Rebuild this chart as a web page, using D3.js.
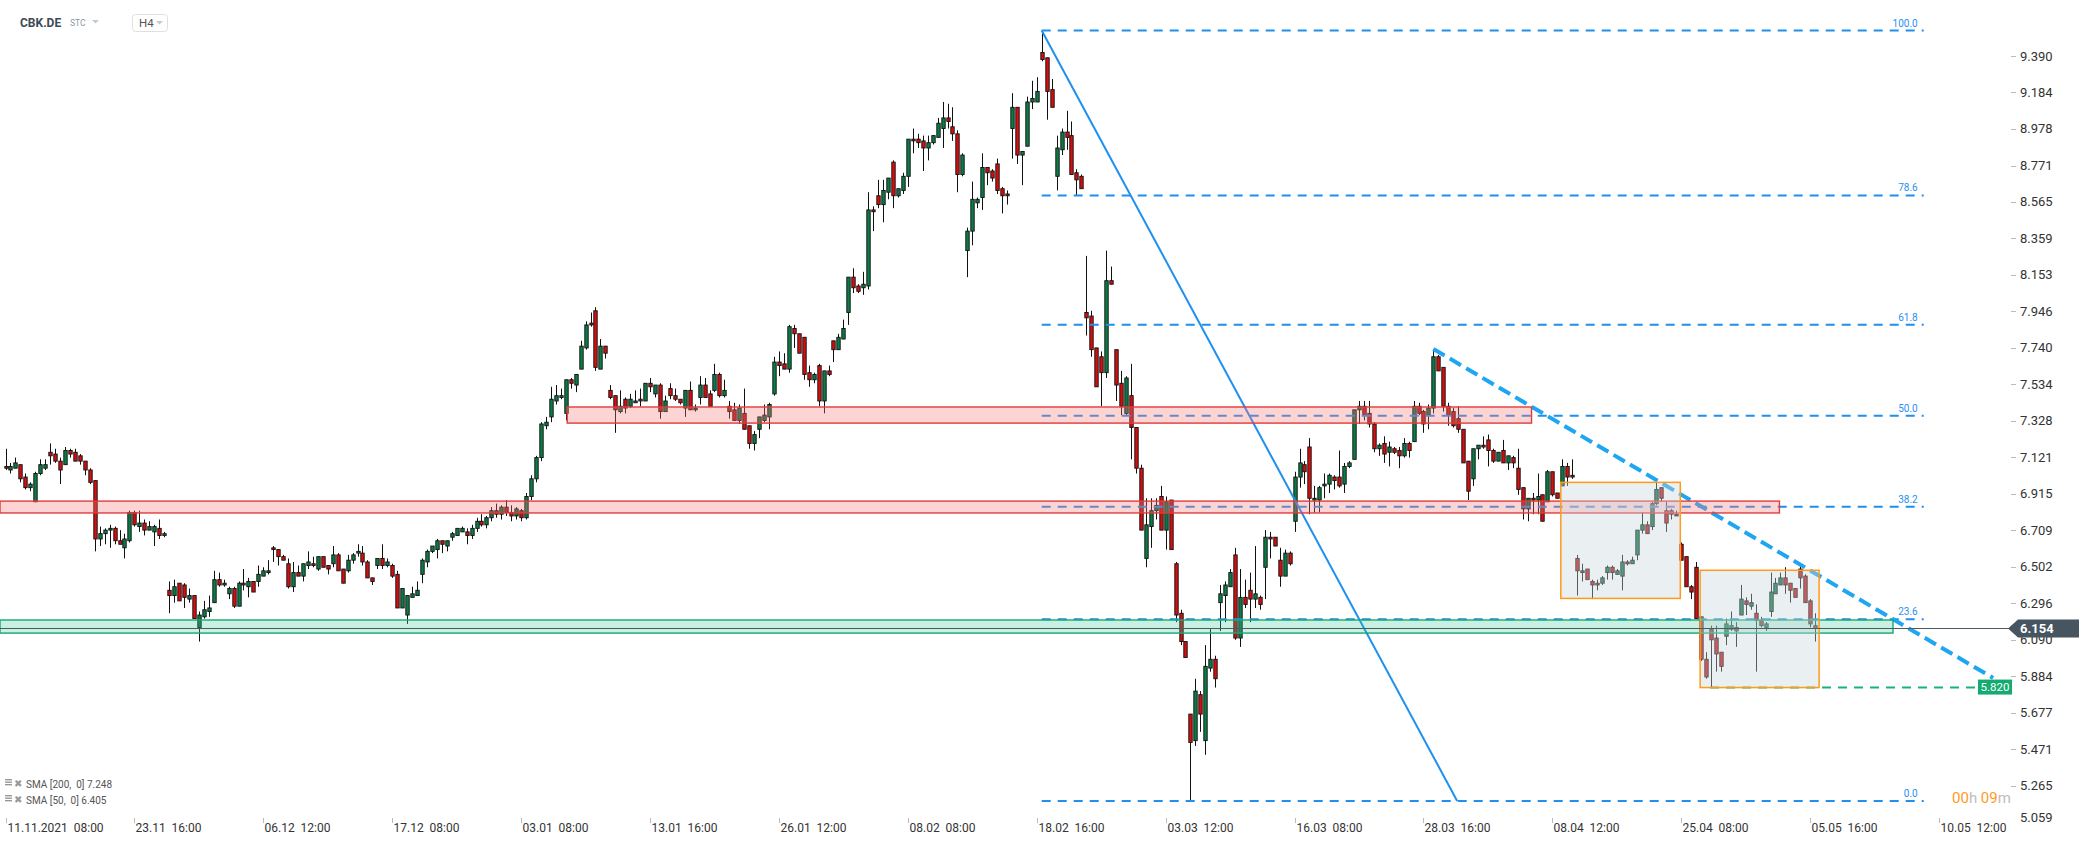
<!DOCTYPE html>
<html><head><meta charset="utf-8">
<script src="https://cdn.jsdelivr.net/npm/d3@7"></script>
<style>
html,body{margin:0;padding:0;background:#fff;}
svg{display:block;font-family:Roboto,"Noto Sans",sans-serif;}
</style></head>
<body>
<svg id="chart" width="2079" height="845"></svg>
<script>
// ---------- DATA ----------
const symbol = "CBK.DE";
const priceTicks = [9.390,9.184,8.978,8.771,8.565,8.359,8.153,7.946,7.740,7.534,7.328,7.121,6.915,6.709,6.502,6.296,6.090,5.884,5.677,5.471,5.265,5.059];
const dateLabels = ["11.11.2021  08:00","23.11  16:00","06.12  12:00","17.12  08:00","03.01  08:00","13.01  16:00","26.01  12:00","08.02  08:00","18.02  16:00","03.03  12:00","16.03  08:00","28.03  16:00","08.04  12:00","25.04  08:00","05.05  16:00","10.05  12:00"];
const dateLabelBars = [0,26,52,78,104,130,156,182,208,234,260,286,312,338,364,390];
// [open, high, low, close] per H4 bar
const ohlc = [
[7.07,7.17,7.05,7.06],[7.05,7.09,7.03,7.07],[7.06,7.12,7.06,7.09],[7.08,7.08,6.98,7.00],[7.01,7.03,6.94,6.95],
[6.95,6.98,6.93,6.97],[6.87,7.04,6.87,7.03],[7.03,7.11,7.02,7.08],[7.06,7.11,7.05,7.08],[7.15,7.20,7.08,7.13],
[7.14,7.17,7.09,7.10],[7.10,7.12,6.97,7.05],[7.08,7.18,7.08,7.16],[7.16,7.17,7.12,7.14],[7.15,7.17,7.10,7.10],
[7.13,7.14,7.08,7.10],[7.10,7.10,7.02,7.05],[7.05,7.06,6.97,6.98],[6.99,6.99,6.59,6.66],[6.66,6.73,6.62,6.69],
[6.69,6.72,6.63,6.71],[6.71,6.74,6.61,6.72],[6.72,6.73,6.63,6.65],[6.65,6.71,6.63,6.63],[6.61,6.69,6.55,6.66],
[6.65,6.82,6.64,6.81],[6.81,6.82,6.73,6.74],[6.73,6.82,6.70,6.75],[6.75,6.77,6.68,6.71],[6.71,6.76,6.71,6.73],
[6.70,6.74,6.62,6.73],[6.72,6.77,6.66,6.68],[6.68,6.70,6.67,6.69],[6.37,6.42,6.24,6.34],[6.34,6.43,6.30,6.39],
[6.41,6.41,6.31,6.31],[6.40,6.41,6.27,6.33],[6.32,6.38,6.30,6.34],[6.34,6.34,6.21,6.21],[6.16,6.25,6.08,6.23],
[6.22,6.31,6.21,6.26],[6.25,6.34,6.22,6.27],[6.30,6.48,6.30,6.43],[6.43,6.47,6.39,6.40],[6.40,6.43,6.39,6.41],
[6.35,6.39,6.32,6.38],[6.38,6.39,6.27,6.28],[6.28,6.42,6.28,6.41],[6.41,6.49,6.37,6.40],[6.39,6.44,6.33,6.42],
[6.42,6.42,6.36,6.36],[6.42,6.51,6.39,6.46],[6.45,6.50,6.45,6.48],[6.47,6.54,6.46,6.48],[6.61,6.62,6.53,6.60],
[6.60,6.60,6.51,6.56],[6.56,6.57,6.54,6.54],[6.52,6.55,6.38,6.39],[6.39,6.53,6.36,6.47],[6.47,6.51,6.45,6.45],
[6.45,6.52,6.42,6.52],[6.51,6.59,6.49,6.53],[6.52,6.56,6.50,6.51],[6.49,6.56,6.48,6.56],[6.56,6.56,6.50,6.50],
[6.51,6.51,6.46,6.49],[6.52,6.62,6.50,6.57],[6.57,6.58,6.48,6.48],[6.49,6.49,6.41,6.41],[6.48,6.57,6.47,6.54],
[6.54,6.58,6.52,6.57],[6.58,6.63,6.56,6.59],[6.58,6.62,6.51,6.53],[6.53,6.54,6.44,6.44],[6.44,6.44,6.40,6.42],
[6.51,6.55,6.49,6.55],[6.55,6.63,6.49,6.51],[6.51,6.55,6.50,6.53],[6.51,6.52,6.44,6.45],[6.46,6.48,6.27,6.27],
[6.27,6.38,6.27,6.38],[6.23,6.34,6.18,6.34],[6.33,6.39,6.33,6.35],[6.34,6.42,6.34,6.37],[6.46,6.55,6.41,6.54],
[6.53,6.60,6.50,6.59],[6.59,6.62,6.58,6.62],[6.60,6.66,6.55,6.65],[6.65,6.65,6.58,6.63],[6.62,6.65,6.59,6.65],
[6.67,6.70,6.65,6.69],[6.68,6.72,6.68,6.72],[6.70,6.73,6.70,6.72],[6.70,6.72,6.63,6.68],
[6.68,6.74,6.66,6.72],[6.72,6.78,6.70,6.76],[6.76,6.80,6.73,6.74],[6.74,6.79,6.72,6.78],[6.78,6.84,6.76,6.82],
[6.82,6.86,6.78,6.80],[6.80,6.85,6.77,6.84],[6.84,6.88,6.79,6.81],[6.81,6.85,6.76,6.79],[6.79,6.84,6.77,6.83],
[6.82,6.83,6.76,6.78],[6.78,6.92,6.77,6.90],[6.90,7.02,6.88,7.00],[7.00,7.13,6.98,7.12],[7.12,7.32,7.10,7.31],
[7.30,7.35,7.28,7.32],[7.35,7.52,7.32,7.45],[7.44,7.53,7.42,7.47],[7.46,7.51,7.45,7.47],[7.37,7.56,7.33,7.56],
[7.56,7.57,7.51,7.54],[7.53,7.59,7.49,7.59],[7.62,7.78,7.62,7.75],[7.74,7.89,7.73,7.87],[7.88,7.94,7.86,7.87],
[7.95,7.97,7.61,7.63],[7.62,7.79,7.62,7.75],[7.75,7.75,7.68,7.71],[7.50,7.53,7.45,7.46],[7.47,7.47,7.26,7.39],
[7.38,7.50,7.37,7.41],[7.45,7.46,7.37,7.40],[7.41,7.48,7.40,7.45],[7.43,7.50,7.43,7.44],[7.45,7.51,7.41,7.44],
[7.44,7.54,7.44,7.54],[7.54,7.57,7.49,7.52],[7.48,7.53,7.46,7.53],[7.53,7.54,7.34,7.38],[7.38,7.47,7.38,7.44],
[7.51,7.54,7.45,7.47],[7.47,7.51,7.44,7.45],[7.45,7.45,7.42,7.43],[7.40,7.50,7.35,7.50],[7.50,7.55,7.39,7.39],
[7.39,7.42,7.38,7.40],[7.46,7.58,7.42,7.53],[7.53,7.57,7.46,7.46],[7.48,7.50,7.41,7.41],[7.50,7.65,7.49,7.59],
[7.59,7.60,7.46,7.47],[7.47,7.56,7.46,7.50],[7.41,7.44,7.34,7.38],[7.39,7.43,7.33,7.33],[7.33,7.42,7.31,7.40],
[7.37,7.51,7.28,7.28],[7.30,7.30,7.17,7.20],[7.20,7.27,7.16,7.25],[7.28,7.35,7.23,7.35],[7.33,7.42,7.32,7.36],
[7.35,7.43,7.28,7.42],[7.48,7.69,7.47,7.66],[7.66,7.72,7.58,7.64],[7.65,7.71,7.62,7.62],[7.62,7.87,7.60,7.86],
[7.85,7.87,7.74,7.82],[7.82,7.82,7.71,7.71],[7.80,7.80,7.56,7.59],[7.60,7.64,7.52,7.56],[7.56,7.60,7.54,7.59],
[7.64,7.65,7.41,7.44],[7.44,7.61,7.37,7.61],[7.61,7.64,7.58,7.59],[7.78,7.78,7.66,7.73],[7.73,7.82,7.73,7.80],
[7.79,7.90,7.79,7.85],[7.94,8.14,7.87,8.14],[8.14,8.19,8.05,8.08],[8.09,8.10,8.05,8.06],[8.08,8.17,8.04,8.10],
[8.09,8.62,8.07,8.52],[8.52,8.54,8.40,8.51],[8.60,8.69,8.53,8.55],[8.55,8.69,8.45,8.63],[8.62,8.70,8.58,8.70],
[8.79,8.80,8.53,8.60],[8.60,8.64,8.59,8.64],[8.63,8.73,8.61,8.71],[8.71,8.92,8.65,8.92],[8.92,8.98,8.84,8.91],
[8.92,8.95,8.87,8.90],[8.91,8.94,8.74,8.87],[8.87,8.94,8.80,8.90],[8.90,8.94,8.89,8.94],[8.93,9.04,8.93,9.01],
[8.98,9.13,8.87,9.04],[9.04,9.12,8.98,9.02],[8.99,9.10,8.91,8.95],[8.95,8.97,8.62,8.72],[8.72,8.84,8.71,8.83],
[8.29,8.42,8.14,8.40],[8.40,8.68,8.32,8.58],[8.56,8.59,8.53,8.58],[8.59,8.84,8.52,8.76],[8.76,8.76,8.66,8.73],
[8.74,8.75,8.68,8.70],[8.78,8.81,8.61,8.63],[8.64,8.65,8.50,8.60],[8.61,8.63,8.55,8.60],[8.98,9.18,8.81,9.10],
[9.10,9.10,8.78,8.83],[8.83,8.85,8.66,8.85],[8.88,9.16,8.88,9.13],[9.13,9.25,9.09,9.15],[9.13,9.27,9.13,9.19],
[9.41,9.534,9.36,9.37],[9.38,9.38,9.03,9.19],[9.20,9.26,9.10,9.10],[8.71,8.94,8.63,8.87],[8.86,8.98,8.83,8.96],
[8.96,9.08,8.86,8.93],[8.94,9.02,8.72,8.72],[8.73,8.75,8.60,8.69],[8.71,8.72,8.64,8.64],[7.94,8.26,7.81,7.91],
[7.92,7.95,7.69,7.73],[7.74,7.74,7.52,7.52],[7.69,7.72,7.41,7.60],[7.60,8.29,7.57,8.12],[8.12,8.20,8.10,8.10],
[7.73,7.73,7.44,7.53],[7.54,7.61,7.36,7.41],[7.37,7.58,7.36,7.57],[7.47,7.65,7.11,7.29],[7.29,7.29,7.03,7.06],
[7.06,7.08,6.71,6.71],[6.55,6.89,6.50,6.74],[6.73,6.89,6.61,6.82],[6.82,6.89,6.77,6.85],[6.90,6.96,6.71,6.71],
[6.71,6.90,6.60,6.87],[6.88,6.88,6.60,6.60],[6.52,6.53,6.19,6.23],[6.24,6.26,6.06,6.08],[6.08,6.08,5.99,5.99],
[5.67,5.67,5.179,5.51],[5.52,5.87,5.49,5.80],[5.78,5.80,5.57,5.67],[5.52,6.06,5.44,5.94],[5.93,6.15,5.91,5.98],
[5.98,6.00,5.82,5.87],[6.30,6.40,6.14,6.35],[6.34,6.42,6.19,6.40],[6.39,6.49,6.39,6.47],[6.57,6.61,6.09,6.10],
[6.10,6.49,6.05,6.33],[6.33,6.43,6.27,6.29],[6.37,6.47,6.19,6.32],[6.32,6.62,6.27,6.35],[6.33,6.34,6.26,6.29],
[6.50,6.71,6.32,6.67],[6.67,6.70,6.55,6.66],[6.67,6.67,6.62,6.62],[6.54,6.61,6.39,6.45],[6.45,6.60,6.45,6.58],
[6.58,6.59,6.51,6.52],[6.76,7.04,6.70,7.01],[7.01,7.17,6.95,7.09],[7.08,7.10,6.97,7.04],[7.18,7.23,6.80,6.89],
[6.88,6.96,6.81,6.89],[6.88,6.96,6.81,6.95],[6.96,7.03,6.89,6.97],[6.97,7.03,6.92,7.02],[7.01,7.02,6.94,6.99],
[7.01,7.16,6.95,6.96],[6.97,7.09,6.92,7.07],[7.07,7.10,7.06,7.09],[7.11,7.39,7.11,7.39],[7.39,7.44,7.31,7.41],
[7.41,7.44,7.33,7.36],[7.37,7.44,7.29,7.31],[7.31,7.32,7.15,7.17],[7.17,7.20,7.13,7.19],[7.20,7.24,7.09,7.14],
[7.15,7.21,7.07,7.18],[7.17,7.18,7.14,7.15],[7.16,7.18,7.06,7.13],[7.13,7.23,7.12,7.20],[7.20,7.21,7.12,7.16],
[7.21,7.44,7.21,7.41],[7.41,7.43,7.36,7.37],[7.38,7.39,7.26,7.31],[7.36,7.42,7.28,7.40],[7.40,7.734,7.37,7.69],
[7.69,7.70,7.61,7.61],[7.63,7.63,7.38,7.41],[7.41,7.43,7.30,7.36],[7.38,7.40,7.29,7.30],[7.34,7.41,7.26,7.28],
[7.28,7.28,7.09,7.09],[7.10,7.10,6.88,6.93],[7.00,7.17,6.96,7.17],[7.17,7.19,7.11,7.19],[7.19,7.24,7.17,7.18],
[7.22,7.25,7.07,7.16],[7.16,7.17,7.09,7.10],[7.10,7.15,7.10,7.15],[7.16,7.22,7.09,7.09],[7.09,7.13,7.05,7.13],
[7.12,7.13,7.06,7.09],[7.06,7.17,6.91,6.94],[6.95,6.95,6.77,6.83],[6.83,6.89,6.76,6.89],[6.89,6.92,6.80,6.88],
[6.88,7.03,6.80,6.90],[6.91,6.91,6.76,6.76],[6.87,7.05,6.87,7.04],[7.04,7.04,6.90,6.91],[6.92,6.92,6.89,6.89],
[6.96,7.11,6.96,7.07],[7.07,7.09,6.96,7.01],[7.02,7.11,7.00,7.01],[6.55,6.57,6.34,6.48],[6.47,6.52,6.42,6.48],
[6.49,6.49,6.43,6.43],[6.42,6.43,6.32,6.40],[6.41,6.43,6.37,6.40],[6.41,6.45,6.40,6.44],[6.47,6.51,6.43,6.50],
[6.50,6.51,6.43,6.47],[6.46,6.49,6.46,6.48],[6.45,6.57,6.37,6.53],[6.53,6.54,6.51,6.52],[6.52,6.56,6.52,6.54],
[6.57,6.71,6.54,6.71],[6.71,6.81,6.69,6.74],[6.74,6.76,6.69,6.69],[6.73,6.87,6.71,6.86],[6.86,6.98,6.85,6.94],
[6.95,6.95,6.87,6.89],[6.82,6.87,6.70,6.75],[6.82,6.83,6.77,6.80],[6.80,6.82,6.79,6.79],[6.63,6.64,6.54,6.54],
[6.56,6.56,6.39,6.39],[6.39,6.40,6.32,6.36],[6.50,6.53,6.21,6.21],[6.22,6.22,5.97,5.98],[5.98,6.02,5.87,5.88],
[6.15,6.17,5.82,6.09],[6.10,6.17,5.91,6.01],[6.02,6.02,5.91,5.94],[6.11,6.21,6.06,6.18],[6.15,6.25,6.14,6.17],
[6.16,6.19,6.05,6.14],[6.23,6.40,6.23,6.32],[6.31,6.33,6.23,6.29],[6.28,6.35,6.26,6.30],[6.24,6.29,5.91,6.20],
[6.20,6.22,6.16,6.17],[6.16,6.19,6.14,6.18],[6.25,6.47,6.22,6.36],[6.35,6.44,6.35,6.41],[6.40,6.47,6.40,6.44],
[6.44,6.50,6.35,6.40],[6.41,6.41,6.30,6.37],[6.38,6.38,6.33,6.33],[6.49,6.51,6.38,6.44],[6.45,6.46,6.30,6.30],
[6.31,6.32,6.16,6.18],[6.17,6.24,6.08,6.154]
];
const lastPrice = 6.154;
const fibHigh = 9.534, fibLow = 5.179, fibStartBar = 209, fibEndBar = 386.9;
const fibRatios = [1.0, 0.786, 0.618, 0.5, 0.382, 0.236, 0.0];
const fibLabels = ["100.0","78.6","61.8","50.0","38.2","23.6","0.0"];
const redZones = [ {b0:113.3, b1:307.8, lo:7.315, hi:7.406}, {b0:-1.2, b1:357.8, lo:6.807, hi:6.874} ];
const greenZone = {b0:-1.2, b1:380.7, lo:6.128, hi:6.202};
const greyBoxes = [ {b0:313.7, b1:337.8, lo:6.324, hi:6.980}, {b0:341.8, b1:365.8, lo:5.820, hi:6.483} ];
const solidTrend = [[209, 9.534],[292.8, 5.179]];
const dashTrend = [[288, 7.734],[400.9, 5.874]];
const supportLevel = {price:5.820, b0:343.8, b1:397.4, label:"5.820"};
const smaLegend = ["SMA [200,  0] 7.248","SMA [50,  0] 6.405"];

// ---------- SCALES ----------
const svg = d3.select("#chart");
const x = d3.scaleLinear().domain([0, 390]).range([5.5, 1939.1]);
const y = d3.scaleLinear().domain([5.059, 9.390]).range([822.2, 56]);

const gMain = svg.append("g");

// candles
const cg = gMain.append("g");
ohlc.forEach((d,i)=>{
  const [o,h,l,c] = d;
  const cx = Math.round(x(i)) + 0.5;
  cg.append("line").attr("x1",cx).attr("x2",cx).attr("y1",y(h)).attr("y2",y(l))
    .attr("stroke","#111").attr("stroke-width",1);
  const top = y(Math.max(o,c)), bot = y(Math.min(o,c));
  cg.append("rect").attr("x",cx-1.7).attr("width",3.4)
    .attr("y",top).attr("height",Math.max(1,bot-top))
    .attr("fill", c>=o ? "#0b7a45" : "#d10f0f")
    .attr("stroke","#111").attr("stroke-width",0.9);
});

// fib levels
const fg = gMain.append("g");
fibRatios.forEach((r,k)=>{
  const v = fibLow + r*(fibHigh-fibLow);
  fg.append("line").attr("x1",x(fibStartBar)).attr("x2",x(fibEndBar))
    .attr("y1",y(v)).attr("y2",y(v))
    .attr("stroke","#1e90f0").attr("stroke-width",2).attr("stroke-dasharray","9,7");
  fg.append("text").attr("x",x(fibEndBar)-6).attr("y",y(v)-4)
    .attr("text-anchor","end").attr("font-size",10).attr("fill","#2a8ff0").text(fibLabels[k]);
});

// trend lines
const line = d3.line().x(d=>x(d[0])).y(d=>y(d[1]));
gMain.append("path").attr("d",line(solidTrend)).attr("fill","none")
  .attr("stroke","#1e90f0").attr("stroke-width",2);
gMain.append("path").attr("d",line(dashTrend)).attr("fill","none")
  .attr("stroke","#1ea6f2").attr("stroke-width",4).attr("stroke-dasharray","13,6");

// support dashed
gMain.append("line").attr("x1",x(supportLevel.b0)).attr("x2",x(supportLevel.b1))
  .attr("y1",y(supportLevel.price)).attr("y2",y(supportLevel.price))
  .attr("stroke","#19b27a").attr("stroke-width",2).attr("stroke-dasharray","9,7");

// zones
redZones.forEach(z=>{
  gMain.append("rect").attr("x",Math.max(0,x(z.b0))).attr("width",x(z.b1)-Math.max(0,x(z.b0)))
    .attr("y",y(z.hi)).attr("height",y(z.lo)-y(z.hi))
    .attr("fill","rgba(250,120,120,0.32)").attr("stroke","#e03c3c").attr("stroke-width",1.4);
});
gMain.append("rect").attr("x",Math.max(0,x(greenZone.b0))).attr("width",x(greenZone.b1)-Math.max(0,x(greenZone.b0)))
  .attr("y",y(greenZone.hi)).attr("height",y(greenZone.lo)-y(greenZone.hi))
  .attr("fill","rgba(60,200,150,0.28)").attr("stroke","#16a872").attr("stroke-width",1.4);
greyBoxes.forEach(z=>{
  gMain.append("rect").attr("x",x(z.b0)).attr("width",x(z.b1)-x(z.b0))
    .attr("y",y(z.hi)).attr("height",y(z.lo)-y(z.hi))
    .attr("fill","rgba(200,212,222,0.38)").attr("stroke","#ff9a1a").attr("stroke-width",1.5);
});

// current price line
gMain.append("line").attr("x1",0).attr("x2",2010).attr("y1",Math.round(y(lastPrice))+0.5).attr("y2",Math.round(y(lastPrice))+0.5)
  .attr("stroke","#4a5963").attr("stroke-width",1);

// right axis
const ax = svg.append("g");
priceTicks.forEach(v=>{
  let ty = y(v);
  const clamped = ty > 818;
  if (clamped) ty = 817;
  if (!clamped) ax.append("line").attr("x1",2011).attr("x2",2016).attr("y1",Math.round(ty)+0.5).attr("y2",Math.round(ty)+0.5)
    .attr("stroke","#bbb").attr("stroke-width",1);
  ax.append("text").attr("x",2020).attr("y",ty+4.5).attr("font-size",13).attr("fill","#333").text(v.toFixed(3));
});

// current price label
const cy = y(lastPrice);
svg.append("path").attr("d",`M2008,${cy} L2018,${cy-9} L2079,${cy-9} L2079,${cy+9} L2018,${cy+9} Z`).attr("fill","#46555f");
svg.append("text").attr("x",2020).attr("y",cy+5).attr("font-size",13).attr("font-weight","bold").attr("fill","#fff").text(lastPrice.toFixed(3));

// support label
const sy = y(supportLevel.price);
svg.append("rect").attr("x",1978).attr("y",sy-8).attr("width",34).attr("height",15).attr("fill","#14ab70");
svg.append("text").attr("x",1995).attr("y",sy+3.5).attr("text-anchor","middle").attr("font-size",11.5).attr("fill","#fff").text(supportLevel.label);

// bottom date axis
const bx = svg.append("g");
dateLabels.forEach((t,k)=>{
  const px = Math.round(x(dateLabelBars[k]))+0.5;
  bx.append("line").attr("x1",px).attr("x2",px).attr("y1",818).attr("y2",823).attr("stroke","#bbb");
  bx.append("text").attr("x",px+1).attr("y",832).attr("font-size",12).attr("fill","#333")
    .attr("xml:space","preserve").style("white-space","pre").text(t);
});

// timer
const tm = svg.append("text").attr("x",1952).attr("y",803).attr("font-size",15);
tm.append("tspan").attr("fill","#ff9a1f").text("00");
tm.append("tspan").attr("fill","#bdbdbd").text("h ");
tm.append("tspan").attr("fill","#ff9a1f").text("09");
tm.append("tspan").attr("fill","#bdbdbd").text("m");

// SMA legend
smaLegend.forEach((t,k)=>{
  const ly = 784 + k*16;
  const g = svg.append("g");
  [0,2.5,5].forEach(o=> g.append("rect").attr("x",5).attr("y",ly-5+o).attr("width",7).attr("height",1.4).attr("fill","#999"));
  g.append("text").attr("x",14).attr("y",ly+3).attr("font-size",10).attr("fill","#999").text("✖");
  g.append("text").attr("x",26).attr("y",ly+3.5).attr("font-size",10).attr("fill","#555")
    .attr("xml:space","preserve").style("white-space","pre").text(t);
});

// header
svg.append("text").attr("x",20).attr("y",27).attr("font-size",12).attr("font-weight","bold").attr("fill","#3d4a55").text(symbol);
svg.append("text").attr("x",70).attr("y",26).attr("font-size",8.5).attr("fill","#8b9aa7").text("STC");
svg.append("path").attr("d","M92,20 L99,20 L95.5,23.5 Z").attr("fill","#c8c8c8");
svg.append("rect").attr("x",132.5).attr("y",14.5).attr("width",35).attr("height",17).attr("rx",3)
  .attr("fill","#fff").attr("stroke","#dde1e5");
svg.append("text").attr("x",139).attr("y",27).attr("font-size",11.5).attr("fill","#555").text("H4");
svg.append("path").attr("d","M156,21 L163,21 L159.5,24.5 Z").attr("fill","#c8c8c8");
</script>
</body></html>
